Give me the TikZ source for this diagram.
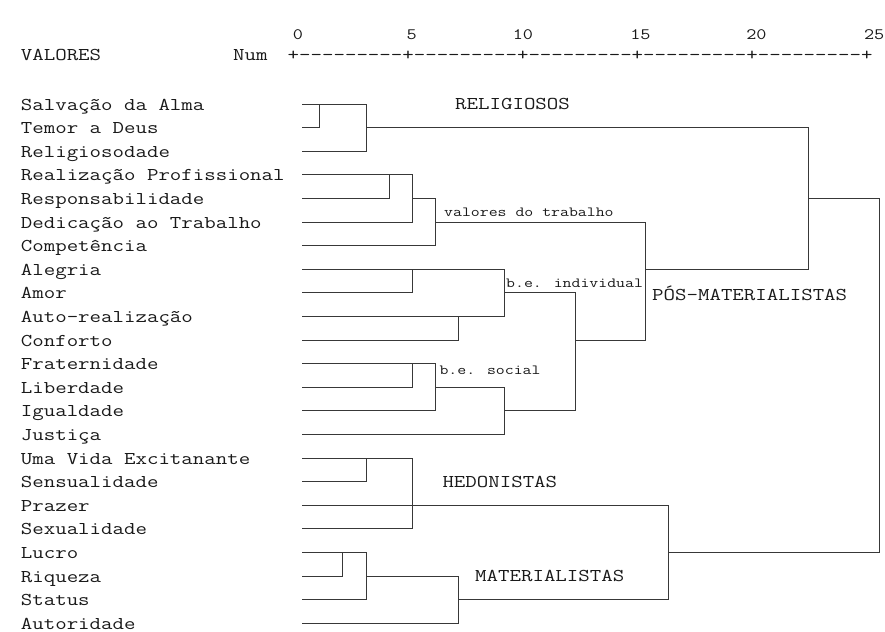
\documentclass[tikz,border=0pt]{standalone}
\usepackage{graphicx}
\definecolor{txtc}{HTML}{1A1A1A}
\definecolor{linec}{HTML}{383838}
\newcommand{\sx}[1]{\scalebox{1.237}[1]{#1}}
\newcommand{\seg}{-\kern0pt-\kern0pt-\kern0pt-\kern0pt-\kern0pt-\kern0pt-\kern0pt-\kern0pt-\kern0pt}
\tikzset{
  lbl/.style={inner sep=0pt, anchor=base west, text=txtc, font=\fontsize{18}{18}\selectfont\ttfamily},
  slbl/.style={inner sep=0pt, anchor=base west, text=txtc, font=\fontsize{14}{14}\selectfont\ttfamily},
  numlbl/.style={inner sep=0pt, anchor=base east, text=txtc, font=\fontsize{15.9}{16}\selectfont\ttfamily},
  dl/.style={draw=linec, line width=1pt, line join=miter, line cap=rect}
}
\begin{document}
\begin{tikzpicture}[x=1pt, y=-1pt]
\fill[white] (0,0) rectangle (885,631);
\useasboundingbox (0,0) rectangle (885,631);

% axis header
\node[lbl] (hval) at (20.7,60.7) {\sx{VALORES}};
\node[lbl] (hnum) at (233,60.7) {\sx{Num}};
\node[lbl] (axis) at (287.5,60.7) {\sx{+\seg+\seg+\seg+\seg+\seg+}};
\node[numlbl] (t0) at (303.3,39.5) {\sx{0}};
\node[numlbl] (t5) at (417,39.5) {\sx{5}};
\node[numlbl] (t10) at (533.3,39.5) {\sx{10}};
\node[numlbl] (t15) at (650.7,39.5) {\sx{15}};
\node[numlbl] (t20) at (766.7,39.5) {\sx{20}};
\node[numlbl] (t25) at (884.5,39.5) {\sx{25}};

% column guides (distance units)
\coordinate (u1) at (319.5,0);
\coordinate (u2) at (342.5,0);
\coordinate (u3) at (366.5,0);
\coordinate (u4) at (389.5,0);
\coordinate (u5) at (412.5,0);
\coordinate (u6) at (435.5,0);
\coordinate (u7) at (458.5,0);
\coordinate (u9) at (504.5,0);
\coordinate (u12) at (575.5,0);
\coordinate (u15) at (645.5,0);
\coordinate (u16) at (668.5,0);
\coordinate (u22) at (808.5,0);
\coordinate (u25) at (879.5,0);

% leaves
\foreach \i/\ry/\t in {0/104.5/Salvação da Alma, 1/127.5/Temor a Deus, 2/151.5/Religiosodade,
  3/174.5/Realização Profissional, 4/198.5/Responsabilidade, 5/222.5/Dedicação ao Trabalho,
  6/245.5/Competência, 7/269.5/Alegria, 8/292.5/Amor, 9/316.5/Auto-realização,
  10/340.5/Conforto, 11/363.5/Fraternidade, 12/387.5/Liberdade, 13/410.5/Igualdade,
  14/434.5/Justiça, 15/458.5/Uma Vida Excitanante, 16/481.5/Sensualidade, 17/505.5/Prazer,
  18/528.5/Sexualidade, 19/552.5/Lucro, 20/576.5/Riqueza, 21/599.5/Status, 22/623.5/Autoridade}{
  \coordinate (L\i) at (302.5,\ry);
  \node[lbl] (n\i) at (20.7,\ry+6) {\sx{\t}};
}

% religiosos
\draw[dl] (L0) -- (u3|-L0) -- (u3|-L2) -- (L2);
\draw[dl] (L1) -- (u1|-L1) -- (u1|-L0);
\draw[dl] (u3|-L1) -- (u22|-L1) -- (u22|-L7) -- (u15|-L7);

% valores do trabalho
\draw[dl] (L3) -- (u5|-L3) -- (u5|-L5) -- (L5);
\draw[dl] (L4) -- (u4|-L4) -- (u4|-L3);
\draw[dl] (u5|-L4) -- (u6|-L4) -- (u6|-L6) -- (L6);
\draw[dl] (u6|-L5) -- (u15|-L5) -- (u15|-L10) -- (u12|-L10);
\draw[dl] (u22|-L4) -- (u25|-L4) -- (u25|-L19) -- (u16|-L19);

% b.e. individual
\draw[dl] (L7) -- (u9|-L7) -- (u9|-L9) -- (L9);
\draw[dl] (L8) -- (u5|-L8) -- (u5|-L7);
\draw[dl] (L10) -- (u7|-L10) -- (u7|-L9);
\draw[dl] (u9|-L8) -- (u12|-L8) -- (u12|-L13) -- (u9|-L13);

% b.e. social
\draw[dl] (L11) -- (u6|-L11) -- (u6|-L13) -- (L13);
\draw[dl] (L12) -- (u5|-L12) -- (u5|-L11);
\draw[dl] (u6|-L12) -- (u9|-L12) -- (u9|-L14) -- (L14);

% hedonistas
\draw[dl] (L15) -- (u5|-L15) -- (u5|-L18) -- (L18);
\draw[dl] (L16) -- (u3|-L16) -- (u3|-L15);
\draw[dl] (L17) -- (u16|-L17) -- (u16|-L21) -- (u7|-L21);

% materialistas
\draw[dl] (L19) -- (u3|-L19) -- (u3|-L21) -- (L21);
\draw[dl] (L20) -- (u2|-L20) -- (u2|-L19);
\draw[dl] (u3|-L20) -- (u7|-L20) -- (u7|-L22) -- (L22);

% group labels
\node[lbl] (grel) at (455,109.5) {\sx{RELIGIOSOS}};
\node[slbl] (gtrab) at (444,216) {\sx{valores do trabalho}};
\node[slbl] (gind) at (506,287.3) {\sx{b.e. individual}};
\node[slbl] (gsoc) at (439.3,374) {\sx{b.e. social}};
\node[lbl] (gpos) at (652,300) {\sx{PÓS-MATERIALISTAS}};
\node[lbl] (ghed) at (442.3,487.3) {\sx{HEDONISTAS}};
\node[lbl] (gmat) at (475,581.7) {\sx{MATERIALISTAS}};
\end{tikzpicture}
\end{document}
